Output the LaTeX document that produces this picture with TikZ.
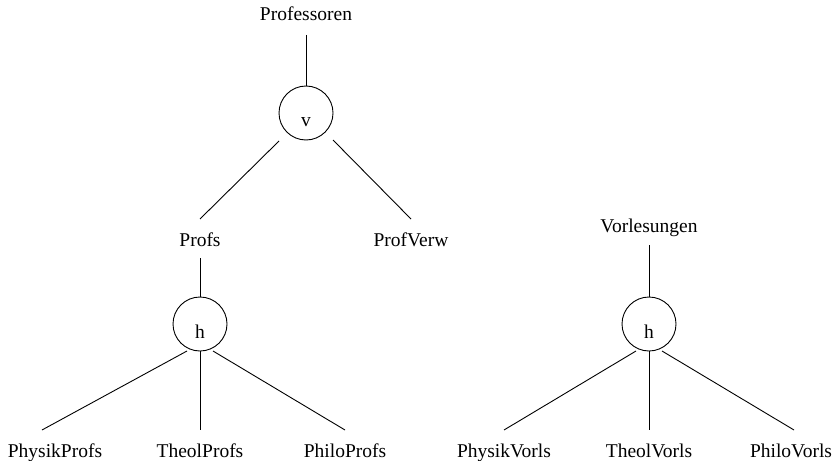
\documentclass[tikz,border=0pt]{standalone}
\usepackage{fontspec}
\setmainfont{Liberation Serif}
\usetikzlibrary{calc}
\begin{document}
\begin{tikzpicture}[x=1pt,y=-1pt,
  lbl/.style={anchor=base,inner sep=0pt,font=\fontsize{19.5}{23}\selectfont},
  op/.style={circle,draw,line width=0.9pt,minimum size=54pt,inner sep=0pt},
  edge/.style={line width=0.9pt}]
\useasboundingbox (0,0) rectangle (837,460);
% left tree
\node[lbl] (prof) at (306,21) {Professoren};
\node[op] (v) at (306,113) {};
\node[lbl] (vt) at (306,126) {v};
\node[lbl] (profs) at (200,246) {Profs};
\node[lbl] (verw) at (411,246) {ProfVerw};
\node[op] (h1) at (200,324) {};
\node[lbl] (h1t) at (200,338) {h};
\node[lbl] (pp) at (55,457) {PhysikProfs};
\node[lbl] (tp) at (200,457) {TheolProfs};
\node[lbl] (lp) at (345,457) {PhiloProfs};
% right tree
\node[lbl] (vorl) at (649,232) {Vorlesungen};
\node[op] (h2) at (649,324) {};
\node[lbl] (h2t) at (649,338) {h};
\node[lbl] (pv) at (504,457) {PhysikVorls};
\node[lbl] (tv) at (649,457) {TheolVorls};
\node[lbl] (lv) at (791,457) {PhiloVorls};
% connectors
\draw[edge] ($(prof.base)+(0,14)$) -- (v.north);
\draw[edge] ($(v.center)+(-27,28)$) -- ($(profs.base)+(0,-27)$);
\draw[edge] ($(v.center)+(27,27)$) -- ($(verw.base)+(0,-27)$);
\draw[edge] ($(profs.base)+(0,12)$) -- (h1.north);
\draw[edge] ($(h1.center)+(-13,27)$) -- ($(pp.base)+(-13,-27)$);
\draw[edge] (h1.south) -- ($(tp.base)+(0,-27)$);
\draw[edge] ($(h1.center)+(13,27)$) -- ($(lp.base)+(0,-27)$);
\draw[edge] ($(vorl.base)+(0,13)$) -- (h2.north);
\draw[edge] ($(h2.center)+(-13,27)$) -- ($(pv.base)+(0,-27)$);
\draw[edge] (h2.south) -- ($(tv.base)+(0,-27)$);
\draw[edge] ($(h2.center)+(13,27)$) -- ($(lv.base)+(3,-27)$);
\end{tikzpicture}
\end{document}
